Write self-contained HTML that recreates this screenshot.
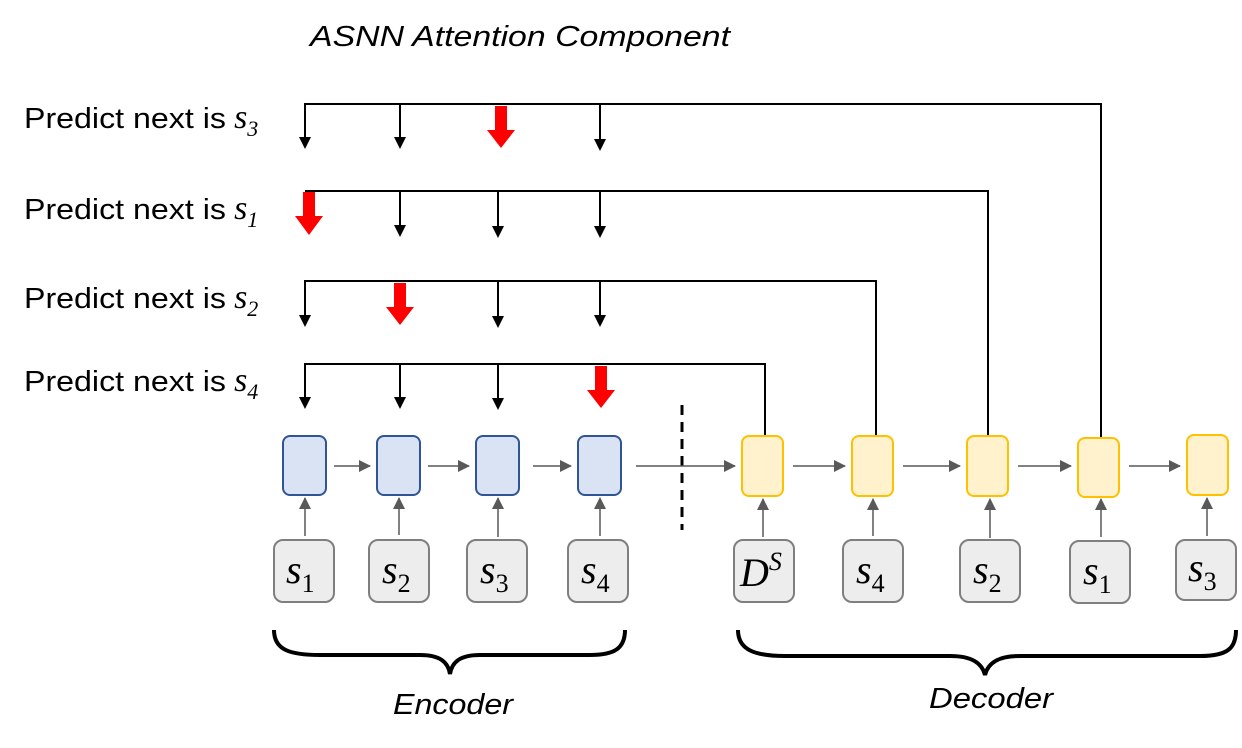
<!DOCTYPE html>
<html><head><meta charset="utf-8"><style>
html,body{margin:0;padding:0;background:#fff;}
svg{display:block;}
text{font-family:"Liberation Sans",sans-serif;}
.m{font-family:"Liberation Serif",serif;font-style:italic;}
</style></head><body>
<svg width="1242" height="748" viewBox="0 0 1242 748" xmlns="http://www.w3.org/2000/svg">
<defs>
<marker id="ag" markerWidth="12" markerHeight="12" refX="11" refY="6" orient="auto" markerUnits="userSpaceOnUse" viewBox="0 0 12 12"><path d="M0,0 L12,6 L0,12 z" fill="#595959"/></marker>
</defs>
<text x="310" y="46" font-size="29" font-style="italic" fill="#000" textLength="420" lengthAdjust="spacingAndGlyphs">ASNN Attention Component</text>

<g font-size="29" fill="#000">
<text x="24" y="128"><tspan textLength="202" lengthAdjust="spacingAndGlyphs">Predict next is</tspan> <tspan class="m" font-size="34">s</tspan><tspan class="m" font-size="22" dy="8" font-style="normal">3</tspan></text>
<text x="24" y="219"><tspan textLength="202" lengthAdjust="spacingAndGlyphs">Predict next is</tspan> <tspan class="m" font-size="34">s</tspan><tspan class="m" font-size="22" dy="8" font-style="normal">1</tspan></text>
<text x="24" y="308"><tspan textLength="202" lengthAdjust="spacingAndGlyphs">Predict next is</tspan> <tspan class="m" font-size="34">s</tspan><tspan class="m" font-size="22" dy="8" font-style="normal">2</tspan></text>
<text x="24" y="391"><tspan textLength="202" lengthAdjust="spacingAndGlyphs">Predict next is</tspan> <tspan class="m" font-size="34">s</tspan><tspan class="m" font-size="22" dy="8" font-style="normal">4</tspan></text>
</g>

<g stroke="#000" stroke-width="2" fill="none">
<path d="M305,140 V104 H1101 V437"/>
<path d="M305,191 H988 V436"/>
<path d="M305,318 V281 H876 V436"/>
<path d="M305,400 V364 H765 V436"/>
<line x1="400" y1="104" x2="400" y2="140"/>
<line x1="600" y1="104" x2="600" y2="142"/>
<line x1="400" y1="191" x2="400" y2="228"/>
<line x1="498" y1="191" x2="498" y2="229"/>
<line x1="600" y1="191" x2="600" y2="229"/>
<line x1="498" y1="281" x2="498" y2="319"/>
<line x1="600" y1="281" x2="600" y2="318"/>
<line x1="400" y1="364" x2="400" y2="400"/>
<line x1="498" y1="364" x2="498" y2="401"/>
</g>
<g fill="#000">
<path d="M299,137 h12 l-6,12 z"/>
<path d="M394,137 h12 l-6,12 z"/>
<path d="M594,139 h12 l-6,12 z"/>
<path d="M394,225 h12 l-6,12 z"/>
<path d="M492,226 h12 l-6,12 z"/>
<path d="M594,226 h12 l-6,12 z"/>
<path d="M299,315 h12 l-6,12 z"/>
<path d="M492,316 h12 l-6,12 z"/>
<path d="M594,315 h12 l-6,12 z"/>
<path d="M299,397 h12 l-6,12 z"/>
<path d="M394,397 h12 l-6,12 z"/>
<path d="M492,398 h12 l-6,12 z"/>
</g>
<g fill="#ff0000">
<path d="M495,106 h12 v24 h8 l-14,18 l-14,-18 h8 z"/>
<path d="M303,192 h12 v24 h8 l-14,19 l-14,-19 h8 z"/>
<path d="M394,283 h12 v24 h8 l-14,18 l-14,-18 h8 z"/>
<path d="M595,366 h12 v24 h8 l-14,18 l-14,-18 h8 z"/>
</g>

<line x1="682" y1="405" x2="682" y2="530" stroke="#000" stroke-width="3" stroke-dasharray="10,7"/>

<g fill="#dae3f3" stroke="#2f5597" stroke-width="2">
<rect x="283" y="436" width="43" height="59" rx="7"/>
<rect x="377" y="436" width="43" height="59" rx="7"/>
<rect x="476" y="436" width="43" height="59" rx="7"/>
<rect x="578" y="436" width="43" height="59" rx="7"/>
</g>
<g fill="#fff2cc" stroke="#ffc000" stroke-width="2">
<rect x="742" y="436" width="41" height="60" rx="7"/>
<rect x="852" y="436" width="41" height="60" rx="7"/>
<rect x="967" y="436" width="41" height="60" rx="7"/>
<rect x="1078" y="438" width="41" height="59" rx="7"/>
<rect x="1187" y="435" width="41" height="60" rx="7"/>
</g>
<g stroke="#595959" stroke-width="1.5" marker-end="url(#ag)">
<line x1="334" y1="466" x2="370" y2="466"/>
<line x1="428" y1="466" x2="469" y2="466"/>
<line x1="533" y1="466" x2="571" y2="466"/>
<line x1="636" y1="466" x2="735" y2="466"/>
<line x1="793" y1="466" x2="845" y2="466"/>
<line x1="903" y1="466" x2="960" y2="466"/>
<line x1="1018" y1="466" x2="1071" y2="466"/>
<line x1="1129" y1="466" x2="1180" y2="466"/>
<line x1="305" y1="536" x2="305" y2="498"/>
<line x1="399" y1="535" x2="399" y2="498"/>
<line x1="498" y1="537" x2="498" y2="498"/>
<line x1="600" y1="536" x2="600" y2="498"/>
<line x1="763" y1="537" x2="763" y2="499"/>
<line x1="873" y1="536" x2="873" y2="499"/>
<line x1="990" y1="538" x2="990" y2="499"/>
<line x1="1101" y1="537" x2="1101" y2="499"/>
<line x1="1207" y1="536" x2="1207" y2="498"/>
</g>
<g fill="#ededed" stroke="#7f7f7f" stroke-width="2">
<rect x="274" y="540" width="60" height="62" rx="9"/>
<rect x="369" y="540" width="60" height="62" rx="9"/>
<rect x="467" y="540" width="60" height="62" rx="9"/>
<rect x="568" y="540" width="60" height="62" rx="9"/>
<rect x="734" y="540" width="60" height="62" rx="9"/>
<rect x="843" y="540" width="60" height="62" rx="9"/>
<rect x="960" y="540" width="60" height="62" rx="9"/>
<rect x="1070" y="541" width="60" height="62" rx="9"/>
<rect x="1176" y="540" width="60" height="60" rx="9"/>
</g>
<g font-size="40" fill="#000">
<text x="286" y="583" class="m">s<tspan font-size="26" dy="9" font-style="normal">1</tspan></text>
<text x="382" y="583" class="m">s<tspan font-size="26" dy="9" font-style="normal">2</tspan></text>
<text x="480" y="583" class="m">s<tspan font-size="26" dy="9" font-style="normal">3</tspan></text>
<text x="581" y="583" class="m">s<tspan font-size="26" dy="9" font-style="normal">4</tspan></text>
<text x="740" y="586" class="m">D<tspan font-size="26" dy="-16">S</tspan></text>
<text x="856" y="583" class="m">s<tspan font-size="26" dy="9" font-style="normal">4</tspan></text>
<text x="973" y="583" class="m">s<tspan font-size="26" dy="9" font-style="normal">2</tspan></text>
<text x="1083" y="584" class="m">s<tspan font-size="26" dy="9" font-style="normal">1</tspan></text>
<text x="1188" y="581" class="m">s<tspan font-size="26" dy="9" font-style="normal">3</tspan></text>
</g>

<g stroke="#000" stroke-width="4" fill="none">
<path d="M274,630 C274,650 290,655 320,655 H420 C440,655 448,662 450,674 C452,662 460,655 480,655 H590 C615,655 625,648 625,630"/>
<path d="M738,630 C738,650 755,656 785,656 H950 C972,656 982,663 985,675 C988,663 998,656 1020,656 H1200 C1228,656 1236,648 1236,630"/>
</g>
<text x="393" y="714" font-size="29" font-style="italic" fill="#000" textLength="120" lengthAdjust="spacingAndGlyphs">Encoder</text>
<text x="929" y="708" font-size="29" font-style="italic" fill="#000" textLength="124" lengthAdjust="spacingAndGlyphs">Decoder</text>
</svg>
</body></html>
